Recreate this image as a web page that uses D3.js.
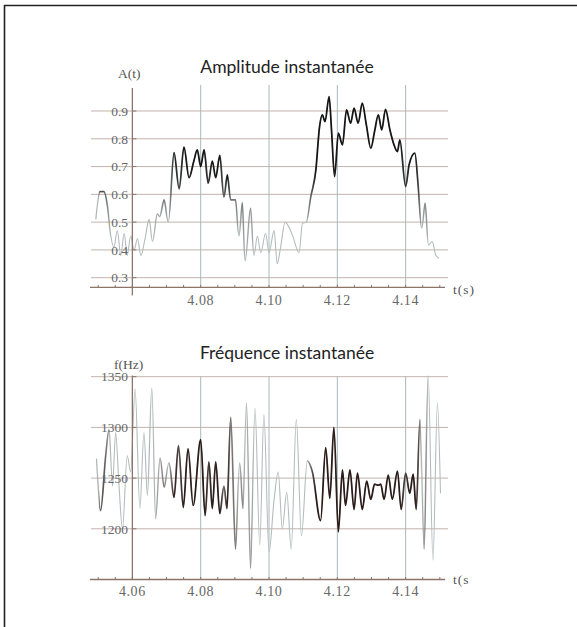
<!DOCTYPE html>
<html><head><meta charset="utf-8">
<script src="https://cdn.jsdelivr.net/npm/d3@7"></script>
<style>body{margin:0;background:#fff}svg{display:block}</style>
</head><body>
<svg id="c" width="577" height="627"></svg>
<script>
// ---- data ----
const ampT = [4.0493,4.0505,4.0517,4.0527,4.0537,4.0546,4.0556,4.0566,4.0576,4.0585,4.0595,4.0605,4.0615,4.0625,4.0637,4.0649,4.0659,4.0673,4.0680,4.0693,4.0705,4.0722,4.0737,4.0751,4.0766,4.0780,4.0790,4.0800,4.0810,4.0822,4.0834,4.0844,4.0856,4.0868,4.0878,4.0888,4.0902,4.0912,4.0922,4.0930,4.0946,4.0956,4.0966,4.0976,4.0990,4.1000,4.1015,4.1024,4.1034,4.1047,4.1068,4.1088,4.1098,4.1109,4.1122,4.1137,4.1148,4.1156,4.1164,4.1176,4.1183,4.1192,4.1203,4.1215,4.1227,4.1239,4.1249,4.1261,4.1273,4.1285,4.1298,4.1309,4.1320,4.1330,4.1341,4.1354,4.1366,4.1376,4.1383,4.1400,4.1410,4.1427,4.1437,4.1447,4.1457,4.1467,4.1478,4.1488,4.1498];
const ampV = [0.51,0.61,0.61,0.56,0.45,0.41,0.47,0.38,0.46,0.38,0.45,0.40,0.44,0.38,0.44,0.51,0.43,0.53,0.52,0.58,0.50,0.75,0.62,0.77,0.66,0.72,0.76,0.70,0.76,0.64,0.72,0.66,0.74,0.59,0.67,0.58,0.58,0.45,0.57,0.36,0.55,0.38,0.45,0.39,0.46,0.39,0.47,0.35,0.41,0.50,0.455,0.39,0.496,0.50,0.59,0.686,0.844,0.886,0.862,0.952,0.832,0.664,0.82,0.778,0.904,0.856,0.91,0.856,0.928,0.85,0.766,0.826,0.886,0.832,0.906,0.832,0.778,0.754,0.796,0.628,0.706,0.748,0.628,0.478,0.568,0.418,0.43,0.382,0.37];

const freqT = [4.0495,4.0507,4.0522,4.0532,4.0542,4.0551,4.0561,4.0571,4.0585,4.0595,4.0608,4.0622,4.0634,4.0644,4.0657,4.0668,4.0681,4.0693,4.0707,4.0722,4.0735,4.0749,4.0763,4.0778,4.0800,4.0813,4.0824,4.0834,4.0844,4.0856,4.0868,4.0877,4.0888,4.0902,4.0914,4.0924,4.0934,4.0946,4.0959,4.0973,4.0985,4.1000,4.1015,4.1027,4.1039,4.1052,4.1065,4.1080,4.1095,4.1112,4.1127,4.1151,4.1166,4.1178,4.1190,4.1203,4.1215,4.1224,4.1237,4.1249,4.1259,4.1273,4.1286,4.1298,4.1309,4.1320,4.1327,4.1337,4.1349,4.1361,4.1376,4.1387,4.1400,4.1412,4.1422,4.1431,4.1442,4.1454,4.1466,4.1480,4.1493,4.1502];
const freqV = [1269,1218,1272,1298,1242,1295,1242,1200,1272,1256,1338,1220,1295,1233,1339,1210,1270,1241,1265,1231,1282,1221,1279,1223,1288,1213,1266,1220,1266,1215,1242,1220,1310,1180,1265,1220,1324,1161,1319,1184,1313,1177,1229,1256,1200,1236,1180,1308,1193,1267,1256,1208,1280,1230,1300,1197,1258,1223,1258,1219,1255,1219,1247,1229,1244,1243,1244,1229,1253,1229,1257,1219,1255,1235,1254,1219,1308,1180,1351,1169,1324,1235];

const xTicks = [4.06, 4.08, 4.10, 4.12, 4.14];
const ampTicks = [0.3, 0.4, 0.5, 0.6, 0.7, 0.8, 0.9];
const freqTicks = [1200, 1250, 1300, 1350];

// ---- drawing ----
const svg = d3.select("#c");
const x = d3.scaleLinear().domain([4.05, 4.15]).range([98.2, 439.8]);
const yA = d3.scaleLinear().domain([0.3, 0.9]).range([277.7, 111]);
const yF = d3.scaleLinear().domain([1150, 1350]).range([579.5, 376.7]);

const axisCol = "#8c7468", hGrid = "#c2b3ad", vGrid = "#a9b9b9", labCol = "#676767";
const serif = "'Liberation Serif','DejaVu Serif',serif";

// frame
svg.append("line").attr("x1",4).attr("x2",577).attr("y1",5.5).attr("y2",5.5).attr("stroke","#222").attr("stroke-width",1.6);
svg.append("line").attr("x1",4.5).attr("x2",4.5).attr("y1",5).attr("y2",627).attr("stroke","#222").attr("stroke-width",1.6);

// gradient stops from amplitude
function addGradient(id, col) {
  const g = svg.append("defs").append("linearGradient").attr("id", id)
    .attr("gradientUnits","userSpaceOnUse")
    .attr("x1", x(4.05)).attr("x2", x(4.15)).attr("y1",0).attr("y2",0);
  const span = x(4.15) - x(4.05);
  ampT.forEach((t,i) => {
    const o = Math.max(0, Math.min(1, (x(t) - x(4.05)) / span));
    const a = Math.max(0, Math.min(1, (ampV[i] - 0.5) / 0.17));
    g.append("stop").attr("offset", o).attr("stop-color", col).attr("stop-opacity", a);
  });
}
addGradient("gA", "#151515");
addGradient("gF", "#2a1b17");

function panel(y, ticks, fmt, yTop, yAxisY, axisBottomExt, gridTop, title, titleY, yLab, yLabX, yLabY, tLab, tLabY, showFirst, labY, T, V, grad) {
  const g = svg.append("g");
  g.selectAll(".hg").data(ticks).join("line")
    .attr("x1", 91).attr("x2", 448).attr("y1", d => y(d)).attr("y2", d => y(d))
    .attr("stroke", hGrid).attr("stroke-width", 1);
  g.selectAll(".vg").data(xTicks.slice(1)).join("line")
    .attr("x1", d => x(d)).attr("x2", d => x(d)).attr("y1", gridTop).attr("y2", yAxisY)
    .attr("stroke", vGrid).attr("stroke-width", 1);
  const line = d3.line().x((d,i) => x(T[i])).y((d,i) => y(V[i])).curve(d3.curveMonotoneX);
  g.append("path").attr("d", line(V)).attr("fill","none").attr("stroke","#b3bcbc").attr("stroke-width",1.1);
  g.append("path").attr("d", line(V)).attr("fill","none").attr("stroke","url(#"+grad+")").attr("stroke-width",1.75);
  g.append("line").attr("x1", 90).attr("x2", 445).attr("y1", yAxisY).attr("y2", yAxisY)
    .attr("stroke", axisCol).attr("stroke-width", 1.3);
  const minor = d3.range(0, 21).map(i => 4.05 + i * 0.005);
  g.selectAll(".mt").data(minor).join("line")
    .attr("x1", d => x(d)).attr("x2", d => x(d)).attr("y1", yAxisY).attr("y2", yAxisY - 2.5)
    .attr("stroke", axisCol).attr("stroke-width", 1);
  g.append("line").attr("x1", x(4.06)).attr("x2", x(4.06)).attr("y1", yTop).attr("y2", yAxisY + axisBottomExt)
    .attr("stroke", axisCol).attr("stroke-width", 1.3);
  g.selectAll(".yt").data(ticks).join("line")
    .attr("x1", x(4.06)).attr("x2", x(4.06) + 4).attr("y1", d => y(d)).attr("y2", d => y(d))
    .attr("stroke", axisCol).attr("stroke-width", 1);
  g.selectAll(".yl").data(ticks).join("text")
    .attr("x", 128).attr("y", d => y(d)).attr("dy", "0.35em").attr("text-anchor", "end")
    .attr("font-family", serif).attr("font-size", 13.5).attr("fill", labCol)
    .text(fmt);
  g.selectAll(".xl").data(showFirst ? xTicks : xTicks.slice(1)).join("text")
    .attr("x", d => x(d)).attr("y", labY).attr("dy", "0.35em").attr("text-anchor", "middle")
    .attr("font-family", serif).attr("font-size", 14).attr("letter-spacing", 0.6).attr("fill", labCol)
    .text(d => d3.format(".2f")(d));
  g.append("text").attr("x", 287).attr("y", titleY).attr("text-anchor", "middle")
    .attr("font-family", "Lato, 'Open Sans', sans-serif").attr("font-size", 17.5).attr("fill", "#222").text(title);
  g.append("text").attr("x", yLabX).attr("y", yLabY)
    .attr("font-family", serif).attr("font-size", 13.5).attr("fill", "#555").text(yLab);
  g.append("text").attr("x", 453).attr("y", tLabY)
    .attr("font-family", serif).attr("font-size", 13.5).attr("letter-spacing", 1).attr("fill", "#555").text(tLab);
}

panel(yA, ampTicks, d3.format(".1f"), 88, yA(0.265), 8, 85, "Amplitude instantanée", 72.5, "A(t)", 118, 78, "t(s)", 293.5, false, 300, ampT, ampV, "gA");
panel(yF, freqTicks, d3.format("d"), 375.5, 579.5, 0, 376, "Fréquence instantanée", 359, "f(Hz)", 114, 369, "t(s", 583.5, true, 591.5, freqT, freqV, "gF");
</script>
</body></html>
